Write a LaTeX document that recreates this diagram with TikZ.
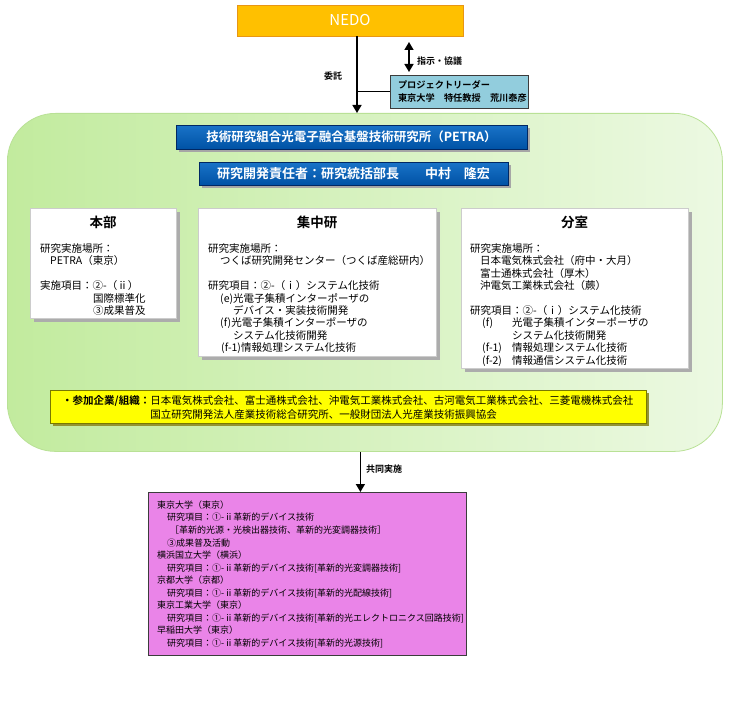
\documentclass[tikz,border=0pt]{standalone}
\usepackage{fontspec}
\setmainfont{Noto Sans CJK JP}[BoldFont={Noto Sans CJK JP Bold}]
\usetikzlibrary{arrows.meta,shadows}
\definecolor{nedoor}{RGB}{255,192,0}
\definecolor{nedoedge}{RGB}{232,150,20}
\definecolor{leadbl}{RGB}{146,205,221}
\definecolor{grnL}{RGB}{194,235,158}
\definecolor{grnR}{RGB}{236,249,226}
\definecolor{grnE}{RGB}{185,225,150}
\definecolor{hdrT}{RGB}{25,115,200}
\definecolor{hdrB}{RGB}{0,82,165}
\definecolor{hdrE}{RGB}{0,40,100}
\definecolor{yel}{RGB}{255,255,0}
\definecolor{yelE}{RGB}{120,120,0}
\definecolor{pur}{RGB}{234,132,232}
\definecolor{edge}{RGB}{60,60,60}
\begin{document}
\begin{tikzpicture}[x=1pt,y=-1pt,
  arr/.style={line width=1.6pt,-{Triangle[width=9pt,length=8pt]}},
  darr/.style={line width=1.6pt,{Triangle[width=9pt,length=8pt]}-{Triangle[width=9pt,length=8pt]}},
  lbl/.style={inner sep=0pt,font=\fontsize{9}{11}\selectfont\bfseries},
  hdr/.style={draw=hdrE,top color=hdrT,bottom color=hdrB,text=white,inner sep=0pt,
    font=\bfseries,drop shadow={shadow xshift=2.5pt,shadow yshift=-2.5pt,fill=gray!70,opacity=1}},
  wbox/.style={draw=gray!40,fill=white,anchor=north west,inner sep=0pt,
    drop shadow={shadow xshift=4pt,shadow yshift=-4pt,fill=gray!65,opacity=1}},
  ttl/.style={inner sep=0pt,font=\fontsize{13.5}{15}\selectfont\bfseries},
  body/.style={anchor=north west,inner sep=0pt,align=left,font=\fontsize{10.5}{12.4}\selectfont},
  pbody/.style={anchor=north west,inner sep=0pt,align=left,font=\fontsize{9}{12.55}\selectfont}
]
\useasboundingbox (0,0) rectangle (729,709);
\fill[white] (0,0) rectangle (729,709);

% NEDO
\node[draw=nedoedge,fill=nedoor,minimum width=226pt,minimum height=31pt,inner sep=0pt,
  text=white,font=\fontsize{15}{17}\selectfont] (nedo) at (350,20.5) {NEDO};

% green container
\node[draw=grnE,line width=0.8pt,rounded corners=48pt,left color=grnL,right color=grnR,
  minimum width=715pt,minimum height=338pt,anchor=north west,inner sep=0pt] (green) at (7,113) {};

% project leader
\node[draw=edge,fill=leadbl,minimum width=138pt,minimum height=33pt,inner xsep=8pt,
  text width=122pt,align=left,font=\fontsize{9.2}{13}\selectfont\bfseries] (leader) at (459,91.5)
  {プロジェクトリーダー\\東京大学　特任教授　荒川泰彦};

\coordinate (j) at (357,91.5);
\draw[arr] ([xshift=7pt]nedo.south) -- ([xshift=7pt]nedo.south |- green.north);
\draw[line width=1.4pt] (j) -- (leader.west);
\coordinate (d1) at (409,42);
\coordinate (d2) at (409,72);
\draw[darr] (d1) -- (d2);
\node[lbl,anchor=west] (shiji) at (417,61) {指示・協議};
\node[lbl] (itaku) at (333,76) {委託};

% headers
\node[hdr,minimum width=351pt,minimum height=24pt,font=\fontsize{12.5}{14}\selectfont\bfseries] (petra) at (351.5,137)
  {技術研究組合光電子融合基盤技術研究所（PETRA）};
\node[hdr,minimum width=309pt,minimum height=23pt,font=\fontsize{13}{15}\selectfont\bfseries] (chief) at (353.5,173.5)
  {研究開発責任者：研究統括部長　　中村　隆宏};

% 本部
\node[wbox,minimum width=146pt,minimum height=110pt] (honbu) at (30,208) {};
\node[ttl] (honbu-t) at (103,222) {本部};
\node[body] (honbu-c) at (40,243.5)
  {研究実施場所：\\
   \hspace{10pt}PETRA（東京）\\[12.4pt]
   実施項目：②-（ⅱ）\\
   \hspace{53pt}国際標準化\\
   \hspace{53pt}③成果普及};

% 集中研
\node[wbox,minimum width=238pt,minimum height=148pt] (shuchu) at (198,208) {};
\node[ttl] (shuchu-t) at (317,222) {集中研};
\node[body] (shuchu-c) at (208,243.5)
  {研究実施場所：\\
   \hspace{12pt}つくば研究開発センター（つくば産総研内）\\[12.4pt]
   研究項目：②-（ⅰ）システム化技術\\
   \hspace{12pt}(e)光電子集積インターポーザの\\
   \hspace{25pt}デバイス・実装技術開発\\
   \hspace{12pt}(f)光電子集積インターポーザの\\
   \hspace{25pt}システム化技術開発\\
   \hspace{13pt}(f-1)情報処理システム化技術};

% 分室
\node[wbox,minimum width=227pt,minimum height=160pt] (bunshitsu) at (461,208) {};
\node[ttl] (bunshitsu-t) at (574.5,222) {分室};
\node[body] (bunshitsu-c) at (470,243.5)
  {研究実施場所：\\
   \hspace{10pt}日本電気株式会社（府中・大月）\\
   \hspace{10pt}富士通株式会社（厚木）\\
   \hspace{10pt}沖電気工業株式会社（蕨）\\[12.4pt]
   研究項目：②-（ⅰ）システム化技術\\
   \hspace{12pt}\makebox[30pt][l]{(f)}光電子集積インターポーザの\\
   \hspace{42pt}システム化技術開発\\
   \hspace{12pt}\makebox[30pt][l]{(f-1)}情報処理システム化技術\\
   \hspace{12pt}\makebox[30pt][l]{(f-2)}情報通信システム化技術};

% participants
\node[draw=yelE,fill=yel,minimum width=596pt,minimum height=33pt,anchor=north west,inner sep=0pt,
  drop shadow={shadow xshift=3pt,shadow yshift=-3pt,fill=yelE!80,opacity=1}] (yellow) at (50,390) {};
\node[anchor=north west,inner sep=0pt,align=left,font=\fontsize{10.5}{14}\selectfont] (yellow-c) at (62,395)
  {\textbf{・参加企業/組織：}日本電気株式会社、富士通株式会社、沖電気工業株式会社、古河電気工業株式会社、三菱電機株式会社\\
   \phantom{\textbf{・参加企業/組織：}}国立研究開発法人産業技術総合研究所、一般財団法人光産業技術振興協会};

% universities
\node[draw=edge,line width=1pt,fill=pur,minimum width=318pt,minimum height=163pt,anchor=north west,inner sep=0pt] (univ) at (148,492) {};
\draw[arr] ([xshift=-4.5pt]green.south) -- ([xshift=-4.5pt]green.south |- univ.north);
\node[lbl,anchor=west] (kyodo) at (366,469) {共同実施};
\node[pbody] (univ-c) at (157,500.5)
  {東京大学（東京）\\
   \hspace{10pt}研究項目：①-ⅱ革新的デバイス技術\\
   \hspace{13pt}［革新的光源・光検出器技術、革新的光変調器技術］\\
   \hspace{10pt}③成果普及活動\\
   横浜国立大学（横浜）\\
   \hspace{10pt}研究項目：①-ⅱ革新的デバイス技術[革新的光変調器技術]\\
   京都大学（京都）\\
   \hspace{10pt}研究項目：①-ⅱ革新的デバイス技術[革新的光配線技術]\\
   東京工業大学（東京）\\
   \hspace{10pt}研究項目：①-ⅱ革新的デバイス技術[革新的光エレクトロニクス回路技術]\\
   早稲田大学（東京）\\
   \hspace{10pt}研究項目：①-ⅱ革新的デバイス技術[革新的光源技術]};
\end{tikzpicture}
\end{document}
